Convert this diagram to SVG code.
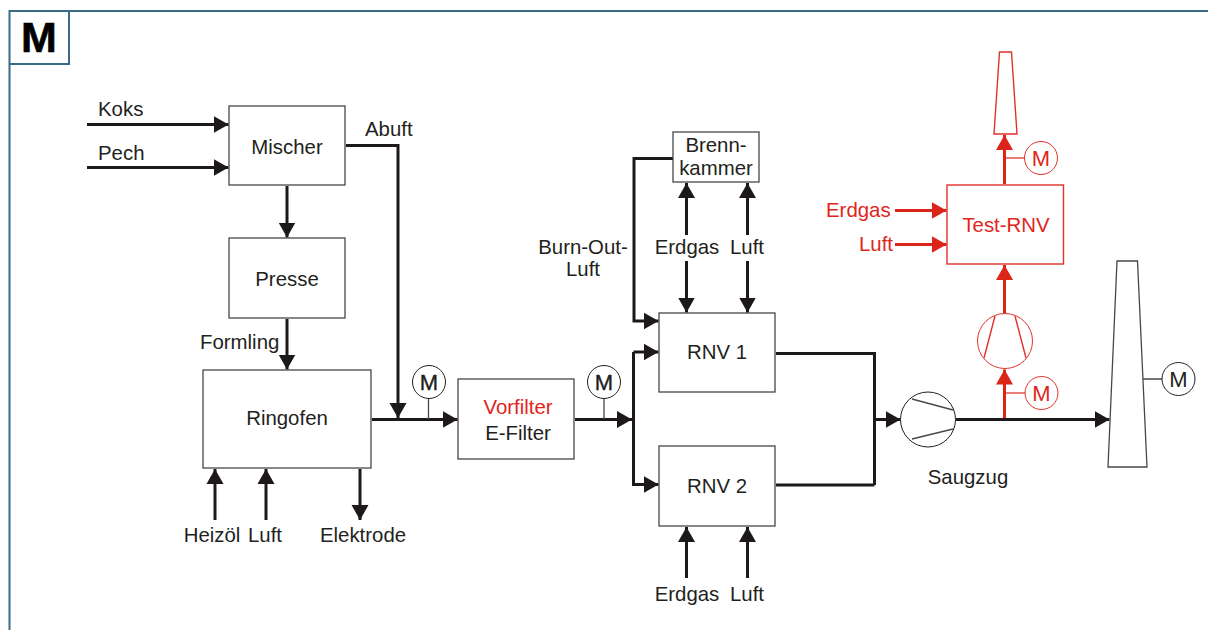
<svg xmlns="http://www.w3.org/2000/svg" width="1208" height="630" viewBox="0 0 1208 630">
<style>
text{font-family:"Liberation Sans",Arial,sans-serif;font-size:20.400px;fill:#231f20}
.c{text-anchor:middle}
text.r{fill:#e1251b}
.b{fill:#fff;stroke:#4a4646;stroke-width:1.300}
.br{fill:#fff;stroke:#e1312a;stroke-width:1.400}
.l{fill:none;stroke:#1c1918;stroke-width:3}
.lr{fill:none;stroke:#dd2418;stroke-width:3}
.t{stroke:#4a4646;stroke-width:1.300;fill:none}
.tr{stroke:#e8534c;stroke-width:1.400;fill:none}
.m{fill:#fff;stroke:#231f20;stroke-width:1}
.mr{fill:#fff;stroke:#e1312a;stroke-width:1}
.mt{font-size:22px}
</style>
<defs>
<marker id="a" markerUnits="userSpaceOnUse" markerWidth="16" markerHeight="18" refX="15" refY="9" orient="auto"><path d="M0 0.500L15 9L0 17.500Z" fill="#1c1918"/></marker>
<marker id="ar" markerUnits="userSpaceOnUse" markerWidth="16" markerHeight="18" refX="15" refY="9" orient="auto"><path d="M0 0.500L15 9L0 17.500Z" fill="#dd2418"/></marker>
</defs>
<g id="frame">
<path d="M1208 11H9.500V630" fill="none" stroke="#3b6a85" stroke-width="2"/>
<path d="M9.500 64H69V11" fill="none" stroke="#3b6a85" stroke-width="2"/>
<text x="39" y="52" class="c" style="font-size:43px;font-weight:bold;fill:#000;stroke:#000;stroke-width:.6">M</text>
</g>
<g id="connectors">
<path class="l" marker-end="url(#a)" d="M87 124.500H228.500"/>
<path class="l" marker-end="url(#a)" d="M87 167.500H228.500"/>
<path class="l" marker-end="url(#a)" d="M287 186V237.500"/>
<path class="l" marker-end="url(#a)" d="M287 319V369.500"/>
<path class="l" marker-end="url(#a)" d="M346 145.500H398V418"/>
<path class="l" marker-end="url(#a)" d="M372 419.500H457.500"/>
<path class="l" marker-end="url(#a)" d="M575 419.500H632"/>
<path class="l" marker-end="url(#a)" d="M633.500 352H658.500"/>
<path class="l" marker-end="url(#a)" d="M633.500 352V484.500H658.500"/>
<path class="l" marker-end="url(#a)" d="M673 158.500H634V321H658.500"/>
<path class="l" marker-end="url(#a)" d="M686.500 235V183"/>
<path class="l" marker-end="url(#a)" d="M747.500 235V183"/>
<path class="l" marker-end="url(#a)" d="M686.500 261V312.500"/>
<path class="l" marker-end="url(#a)" d="M747.500 261V312.500"/>
<path class="l" marker-end="url(#a)" d="M686.500 578V527"/>
<path class="l" marker-end="url(#a)" d="M747.500 578V527"/>
<path class="l" marker-end="url(#a)" d="M215 520V469"/>
<path class="l" marker-end="url(#a)" d="M266 520V469"/>
<path class="l" marker-end="url(#a)" d="M360 469V520"/>
<path class="l" d="M776 353.500H874.500V485M776 485H874.500"/>
<path class="l" marker-end="url(#a)" d="M874 419.500H900.500"/>
<path class="l" marker-end="url(#a)" d="M956 419.500H1109.500"/>
<path class="lr" marker-end="url(#ar)" d="M1004.500 418V369.500"/>
<path class="lr" marker-end="url(#ar)" d="M1004.500 313V265"/>
<path class="lr" marker-end="url(#ar)" d="M1004.500 184V135"/>
<path class="lr" marker-end="url(#ar)" d="M895 210.500H946.500"/>
<path class="lr" marker-end="url(#ar)" d="M895 244.500H946.500"/>
<path class="t" d="M428.500 399V419M604 399V419M1143 379H1162"/>
<path class="tr" d="M1006 393H1025M1006 158H1025"/>
</g>
<g id="mischer"><rect class="b" x="229" y="106" width="116" height="79"/><text class="c" x="287" y="154">Mischer</text></g>
<g id="presse"><rect class="b" x="229" y="238" width="116" height="80"/><text class="c" x="287" y="286">Presse</text></g>
<g id="ringofen"><rect class="b" x="203" y="370" width="168" height="98"/><text class="c" x="287" y="425">Ringofen</text></g>
<g id="filter"><rect class="b" x="458" y="379" width="116" height="80"/><text class="c r" x="518" y="414">Vorfilter</text><text class="c" x="518" y="440">E-Filter</text></g>
<g id="brennkammer"><rect class="b" x="673" y="132" width="86" height="50"/><text class="c" x="716" y="152">Brenn-</text><text class="c" x="716" y="175">kammer</text></g>
<g id="rnv1"><rect class="b" x="659" y="313" width="116" height="79"/><text class="c" x="717" y="359">RNV 1</text></g>
<g id="rnv2"><rect class="b" x="659" y="446" width="116" height="80"/><text class="c" x="717" y="493">RNV 2</text></g>
<g id="test-rnv"><rect class="br" x="947" y="185" width="116.500" height="79"/><text class="c r" x="1006" y="232">Test-RNV</text></g>
<g id="fan"><circle class="m" cx="928" cy="419.500" r="27.500"/><path class="t" d="M912 399L953 410M912 439L953 429"/></g>
<g id="compressor"><circle class="mr" cx="1005" cy="341" r="27.500"/><path class="tr" d="M995 316L984 358M1015 316L1026 358" style="stroke:#e1312a"/></g>
<g id="stack"><path class="t" style="fill:#fff" d="M1117 261H1137.500L1147 467H1108Z"/></g>
<g id="stack-red"><path class="tr" style="fill:#fff;stroke:#e1312a" d="M999.500 52H1011.500L1017 134H994Z"/></g>
<g id="m1"><circle class="m" cx="429" cy="382" r="16.500"/><text class="c mt" x="429" y="390" style="stroke:#231f20;stroke-width:.4">M</text></g>
<g id="m2"><circle class="m" cx="604" cy="382" r="16.500"/><text class="c mt" x="604" y="390" style="stroke:#231f20;stroke-width:.4">M</text></g>
<g id="m3"><circle class="m" cx="1178.500" cy="379" r="16.500"/><text class="c mt" x="1178.500" y="387">M</text></g>
<g id="m4"><circle class="mr" cx="1041.500" cy="393" r="16.500"/><text class="c r mt" x="1041.500" y="401">M</text></g>
<g id="m5"><circle class="mr" cx="1041" cy="158" r="16.500"/><text class="c r mt" x="1041" y="166">M</text></g>
<g id="labels">
<text x="98" y="116">Koks</text>
<text x="98" y="160">Pech</text>
<text x="365" y="136">Abuft</text>
<text x="200" y="349">Formling</text>
<text class="c" x="212" y="542">Heizöl</text>
<text class="c" x="265" y="542">Luft</text>
<text class="c" x="363" y="542">Elektrode</text>
<text class="c" x="583" y="254">Burn-Out-</text>
<text class="c" x="583" y="276">Luft</text>
<text class="c" x="687" y="254">Erdgas</text>
<text class="c" x="747" y="254">Luft</text>
<text class="c" x="687" y="601">Erdgas</text>
<text class="c" x="747" y="601">Luft</text>
<text class="c" x="968" y="484">Saugzug</text>
<text class="r" x="826" y="217">Erdgas</text>
<text class="r" x="859" y="251">Luft</text>
</g>
</svg>
